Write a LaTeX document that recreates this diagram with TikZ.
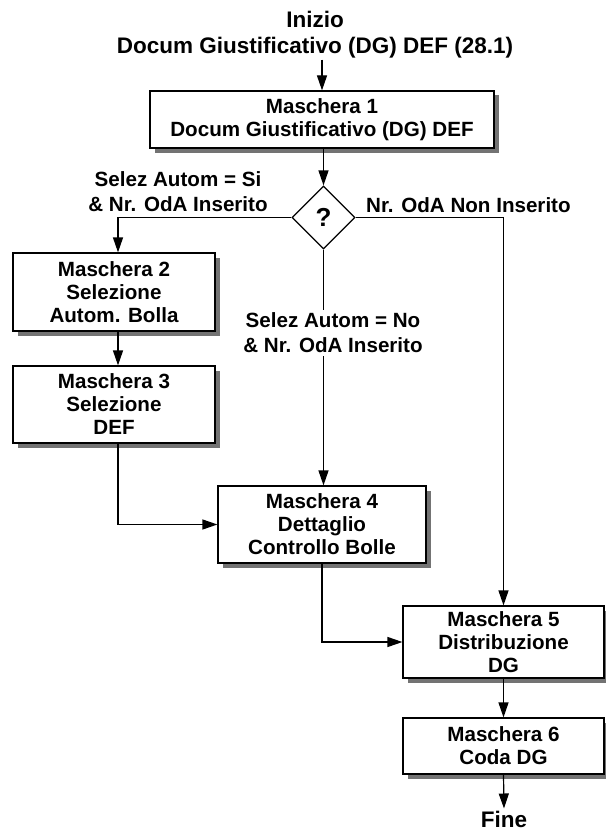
\documentclass[tikz,border=0pt]{standalone}
\usepackage{fontspec}
\setmainfont{Liberation Sans}
\usetikzlibrary{arrows.meta,shapes.geometric,shadows}
\begin{document}
\begin{tikzpicture}[x=1pt,y=-1pt,
  box/.style={draw, line width=1.2pt, fill=white, align=center, inner sep=0pt,
    font=\fontsize{20.6}{23}\selectfont\bfseries,
    drop shadow={shadow xshift=4.5pt, shadow yshift=-4.5pt, fill=black!55, opacity=1}},
  lbl/.style={align=center, inner sep=0pt, font=\fontsize{20.6}{25}\selectfont\bfseries},
  term/.style={align=center, inner sep=1pt, font=\fontsize{22.5}{26}\selectfont\bfseries},
  conn/.style={line width=1.2pt, -{Triangle[length=15pt,width=10pt]}},
  line/.style={line width=1.2pt}]
\useasboundingbox (0,0) rectangle (605,832);

% terminals
\node[term] (start) at (315,35) {Inizio\\Docum Giustificativo (DG) DEF (28.1)};
\node[term, inner sep=2pt, anchor=base] (fine) at (504,827) {Fine};

% boxes
\node[box, minimum width=344pt, minimum height=57pt] (b1) at (322,119.5) {Maschera 1\\Docum Giustificativo (DG) DEF};
\node[draw, diamond, line width=1.2pt, fill=white, minimum width=63pt, minimum height=63pt,
  inner sep=0pt, font=\fontsize{26}{28}\selectfont\bfseries] (q) at (323.5,217.5) {?};
\node[box, minimum width=202pt, minimum height=78pt] (b2) at (114,292) {Maschera 2\\Selezione\\Autom. Bolla};
\node[box, minimum width=202pt, minimum height=77pt] (b3) at (114,404.5) {Maschera 3\\Selezione\\DEF};
\node[box, minimum width=208pt, minimum height=77pt] (b4) at (322,524.5) {Maschera 4\\Dettaglio\\Controllo Bolle};
\node[box, minimum width=201pt, minimum height=72pt] (b5) at (503.5,642) {Maschera 5\\Distribuzione\\DG};
\node[box, minimum width=201pt, minimum height=56pt] (b6) at (503.5,746) {Maschera 6\\Coda DG};

\coordinate (colL) at (118,0);

% connectors
\draw[conn] (start.south -| b1.north) -- (b1.north);
\draw[conn] (q.north |- b1.south) -- (q.north);
\draw[conn] (q.west) -| (b2.north -| colL);
\draw[conn] (q.east) -| (b5.north);
\draw[conn] (q.south) -- (q.south |- b4.north);
\draw[conn] (b2.south -| colL) -- (b3.north -| colL);
\draw[conn] (b3.south -| colL) |- (b4.west);
\draw[conn] (b4.south) |- (b5.west);
\draw[conn] (b5.south) -- (b6.north);
\draw[conn] (b6.south) -- (fine.north);

% labels
\node[lbl] (l1) at (178,192) {Selez Autom = Si\\\& Nr. OdA Inserito};
\node[lbl, anchor=base west] (l2) at (366,212) {Nr. OdA Non Inserito};
\node[lbl, fill=white, inner sep=3pt] (l3) at (333,333) {Selez Autom = No\\\& Nr. OdA Inserito};
\end{tikzpicture}
\end{document}
